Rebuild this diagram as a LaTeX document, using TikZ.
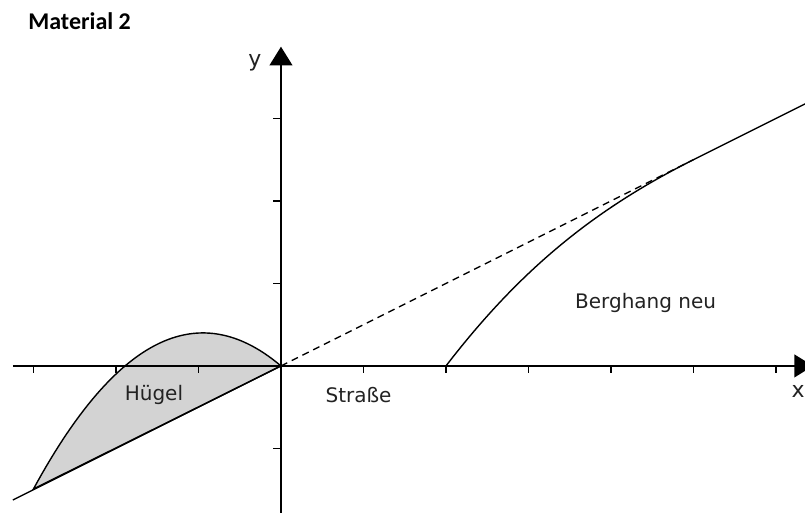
\documentclass[tikz,border=0pt]{standalone}
\usepackage{fontspec}
\setmainfont{DejaVu Sans}
\newfontfamily\headfont{Carlito}
\usetikzlibrary{arrows.meta}
\definecolor{HillGray}{HTML}{D3D3D3}
\definecolor{TagText}{HTML}{222222}

\begin{document}
\begin{tikzpicture}[x=1.45cm,y=1.45cm,
    axisline/.style={line width=1pt,-{Triangle[length=3.3mm,width=4mm]}},
    curve/.style={line width=0.7pt},
    tickmark/.style={line width=0.6pt},
    tag/.style={text=TagText,font=\fontsize{10}{12}\selectfont}]
    \path[use as bounding box,clip] (-3.406,-1.782) rectangle (6.352,4.436);
    \coordinate (O) at (0,0);
    \coordinate (hillfoot) at (-3.25,-1.625);
    \coordinate (roadend) at (2,0);
    \coordinate (touch) at (5,2.5);
    \filldraw[curve,fill=HillGray,domain=-3:0,samples=60]
      plot (\x,{-0.448*\x*\x-0.847*\x}) -- cycle;
    \draw[curve] (hillfoot) -- (O);
    \draw[axisline] (-3.25,0) -- (6.45,0);
    \draw[axisline] (0,-1.85) -- (0,3.87);
    \foreach \i in {-3,-2,-1,1,2,...,6}
      \draw[tickmark] (\i,0) -- (\i,-0.09);
    \foreach \j in {-1,1,2,3}
      \draw[tickmark] (0,\j) -- (-0.1,\j);
    \draw[curve,dash pattern=on 3.5pt off 2.5pt] (O) -- (touch);
    \draw[curve] (roadend) .. controls (2.9,1.17) and (3.8,1.9) .. (touch) -- (6.6,3.3);
    \node[tag] (huegel) at (-1.54,-0.35) {Hügel};
    \node[tag] (strasse) at (0.94,-0.35) {Straße};
    \node[tag] (berghang) at (4.42,0.76) {Berghang neu};
    \node[tag,font=\fontsize{11}{13}\selectfont] (ylab) at (-0.315,3.67) {y};
    \node[tag,font=\fontsize{11}{13}\selectfont] (xlab) at (6.27,-0.315) {x};
    \node[anchor=west,inner sep=0pt,font=\headfont\bfseries\fontsize{12}{14}\selectfont] (title)
      at (-3.067,4.18) {Material 2};
\end{tikzpicture}
\end{document}
